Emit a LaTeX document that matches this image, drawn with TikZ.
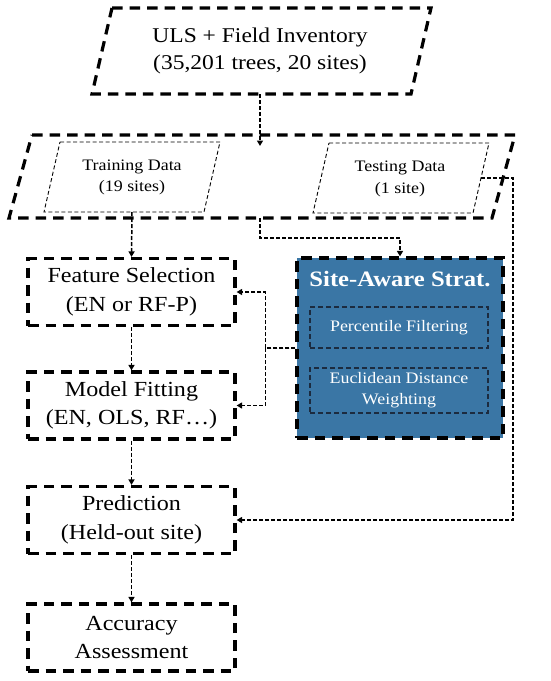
\documentclass[tikz,border=0pt]{standalone}
\usepackage{fontspec}
\setmainfont{Liberation Serif}[FakeStretch=1.12]
\usetikzlibrary{arrows.meta}
\definecolor{sablue}{HTML}{3A76A5}
\definecolor{innerline}{HTML}{1C2B3F}
\tikzset{
  bigdash/.style={line width=3.2pt, dash pattern=on 10.5pt off 7pt},
  box/.style={bigdash, draw=black, rectangle, minimum width=207pt, minimum height=67pt,
              align=center, font=\fontsize{21.5}{28.5}\selectfont, inner sep=0pt},
  conn/.style={line width=1.5pt, dash pattern=on 4pt off 2pt, -{Triangle[length=5.5pt,width=6pt]}},
  thinpara/.style={line width=0.9pt, dash pattern=on 4pt off 2.5pt},
  lbl/.style={align=center, inner sep=0pt},
  innerbox/.style={draw=innerline, line width=1.5pt, dash pattern=on 5pt off 3pt, rectangle,
              minimum width=178pt, align=center, inner sep=0pt, text=white,
              font=\fontsize{16}{21}\selectfont},
}
\begin{document}
\begin{tikzpicture}[x=1pt,y=-1pt]
\useasboundingbox (0,0) rectangle (550,681);
% top parallelogram
\draw[bigdash] (112,8) -- (431,8) -- (411,94) -- (92,94) -- cycle;
\node[lbl, font=\fontsize{21}{27}\selectfont] (uls) at (260,51) {ULS + Field Inventory\\(35,201 trees, 20 sites)};
\coordinate (ulsB) at (260,94);
\coordinate (splitT) at (260,146);
% split parallelogram
\draw[bigdash] (32,135) -- (515,135) -- (492,218) -- (9,218) -- cycle;
\coordinate (splitB) at (260,218);
% training
\draw[thinpara] (60,142) -- (220,142) -- (204,212) -- (44,212) -- cycle;
\node[lbl, font=\fontsize{16}{21}\selectfont] (train) at (132,177) {Training Data\\(19 sites)};
\coordinate (trainB) at (132,212);
% testing
\draw[thinpara] (329,143) -- (489,143) -- (473,213) -- (313,213) -- cycle;
\node[lbl, font=\fontsize{16}{22}\selectfont] (test) at (400,179) {Testing Data\\(1 site)};
\coordinate (testR) at (481,178);
\coordinate (rc) at (513,178);
% left column boxes
\node[box] (fs) at (131.5,292) {Feature Selection\\(EN or RF-P)};
\node[box] (mf) at (131.5,405.5) {Model Fitting\\(EN, OLS, RF\dots)};
\node[box] (pred) at (131.5,520) {Prediction\\(Held-out site)};
\node[box] (acc) at (131.5,637.5) {Accuracy\\Assessment};
% site-aware box
\node[bigdash, draw=black, fill=sablue, rectangle, minimum width=206pt, minimum height=180pt, inner sep=0pt] (sa) at (400,348) {};
\node[lbl, text=white, font=\fontsize{22}{24}\bfseries\selectfont] (satitle) at (400,279) {Site-Aware Strat.};
\node[innerbox, minimum height=41pt] (pf) at (399,327.5) {Percentile Filtering};
\node[innerbox, minimum height=45pt] (ed) at (399,390.5) {Euclidean Distance\\Weighting};
% connectors
\draw[conn] (ulsB) -- (splitT);
\draw[conn] (trainB) -- (fs.north);
\draw[conn] (splitB) -- ++(0,20) -| (sa.north);
\draw[conn] (sa.west) -- ++(-30,0) |- (fs.east);
\draw[conn] (sa.west) -- ++(-30,0) |- (mf.east);
\draw[conn] (fs.south) -- (mf.north);
\draw[conn] (mf.south) -- (pred.north);
\draw[conn] (pred.south) -- (acc.north);
\draw[conn] (testR) -- (rc) |- (pred.east);
\end{tikzpicture}
\end{document}
